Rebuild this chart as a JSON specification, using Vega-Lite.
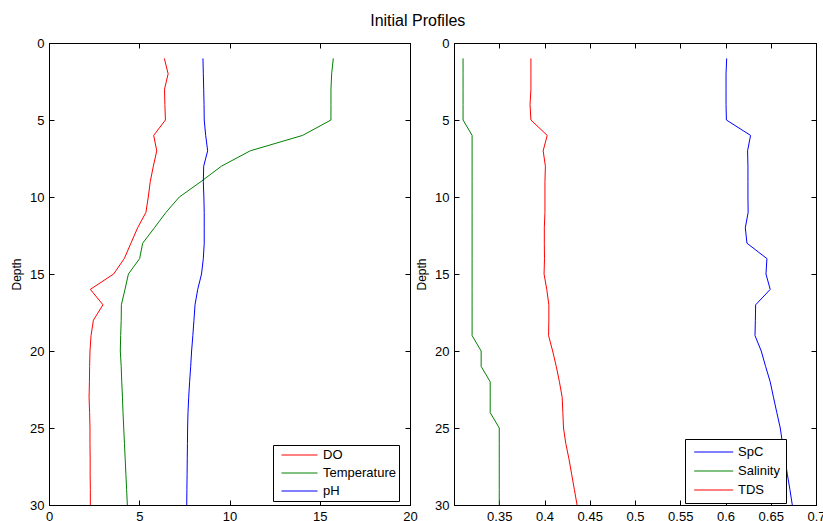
{
  "$schema": "https://vega.github.io/schema/vega-lite/v6.json",
  "padding": {"left": 10, "top": 12, "right": 6, "bottom": 2},
  "title": {"text": "Initial Profiles", "fontSize": 16, "fontWeight": "normal", "font": "Liberation Sans", "anchor": "middle", "color": "black", "offset": 8},
  "bounds": "flush",
  "spacing": 44,
  "datasets": {
    "left": [
      {"v": "DO", "d": 1, "x": 6.39}, {"v": "DO", "d": 2, "x": 6.6}, {"v": "DO", "d": 3, "x": 6.4}, {"v": "DO", "d": 4, "x": 6.42}, {"v": "DO", "d": 5, "x": 6.45},
      {"v": "DO", "d": 6, "x": 5.8}, {"v": "DO", "d": 7, "x": 5.97}, {"v": "DO", "d": 8, "x": 5.78}, {"v": "DO", "d": 9, "x": 5.61}, {"v": "DO", "d": 10, "x": 5.5},
      {"v": "DO", "d": 11, "x": 5.37}, {"v": "DO", "d": 12, "x": 4.91}, {"v": "DO", "d": 13, "x": 4.54}, {"v": "DO", "d": 14, "x": 4.17}, {"v": "DO", "d": 15, "x": 3.58},
      {"v": "DO", "d": 16, "x": 2.29}, {"v": "DO", "d": 17, "x": 2.99}, {"v": "DO", "d": 18, "x": 2.46}, {"v": "DO", "d": 19, "x": 2.33}, {"v": "DO", "d": 20, "x": 2.27},
      {"v": "DO", "d": 21, "x": 2.25}, {"v": "DO", "d": 22, "x": 2.24}, {"v": "DO", "d": 23, "x": 2.22}, {"v": "DO", "d": 24, "x": 2.25}, {"v": "DO", "d": 25, "x": 2.27},
      {"v": "DO", "d": 26, "x": 2.27}, {"v": "DO", "d": 27, "x": 2.28}, {"v": "DO", "d": 28, "x": 2.28}, {"v": "DO", "d": 29, "x": 2.29}, {"v": "DO", "d": 30, "x": 2.29},
      {"v": "Temperature", "d": 1, "x": 15.75}, {"v": "Temperature", "d": 2, "x": 15.66}, {"v": "Temperature", "d": 3, "x": 15.62}, {"v": "Temperature", "d": 4, "x": 15.62}, {"v": "Temperature", "d": 5, "x": 15.62},
      {"v": "Temperature", "d": 6, "x": 14.05}, {"v": "Temperature", "d": 7, "x": 11.15}, {"v": "Temperature", "d": 8, "x": 9.55}, {"v": "Temperature", "d": 9, "x": 8.42}, {"v": "Temperature", "d": 10, "x": 7.22},
      {"v": "Temperature", "d": 11, "x": 6.48}, {"v": "Temperature", "d": 12, "x": 5.84}, {"v": "Temperature", "d": 13, "x": 5.19}, {"v": "Temperature", "d": 14, "x": 5.02}, {"v": "Temperature", "d": 15, "x": 4.4},
      {"v": "Temperature", "d": 16, "x": 4.21}, {"v": "Temperature", "d": 17, "x": 4.01}, {"v": "Temperature", "d": 18, "x": 4.0}, {"v": "Temperature", "d": 19, "x": 3.97}, {"v": "Temperature", "d": 20, "x": 3.95},
      {"v": "Temperature", "d": 21, "x": 4.0}, {"v": "Temperature", "d": 22, "x": 4.03}, {"v": "Temperature", "d": 23, "x": 4.07}, {"v": "Temperature", "d": 24, "x": 4.1}, {"v": "Temperature", "d": 25, "x": 4.14},
      {"v": "Temperature", "d": 26, "x": 4.18}, {"v": "Temperature", "d": 27, "x": 4.22}, {"v": "Temperature", "d": 28, "x": 4.26}, {"v": "Temperature", "d": 29, "x": 4.3}, {"v": "Temperature", "d": 30, "x": 4.34},
      {"v": "pH", "d": 1, "x": 8.53}, {"v": "pH", "d": 2, "x": 8.55}, {"v": "pH", "d": 3, "x": 8.57}, {"v": "pH", "d": 4, "x": 8.59}, {"v": "pH", "d": 5, "x": 8.6},
      {"v": "pH", "d": 6, "x": 8.68}, {"v": "pH", "d": 7, "x": 8.79}, {"v": "pH", "d": 8, "x": 8.57}, {"v": "pH", "d": 9, "x": 8.55}, {"v": "pH", "d": 10, "x": 8.58},
      {"v": "pH", "d": 11, "x": 8.6}, {"v": "pH", "d": 12, "x": 8.6}, {"v": "pH", "d": 13, "x": 8.6}, {"v": "pH", "d": 14, "x": 8.55}, {"v": "pH", "d": 15, "x": 8.45},
      {"v": "pH", "d": 16, "x": 8.24}, {"v": "pH", "d": 17, "x": 8.09}, {"v": "pH", "d": 18, "x": 8.03}, {"v": "pH", "d": 19, "x": 7.97}, {"v": "pH", "d": 20, "x": 7.9},
      {"v": "pH", "d": 21, "x": 7.85}, {"v": "pH", "d": 22, "x": 7.79}, {"v": "pH", "d": 23, "x": 7.74}, {"v": "pH", "d": 24, "x": 7.7}, {"v": "pH", "d": 25, "x": 7.68},
      {"v": "pH", "d": 26, "x": 7.67}, {"v": "pH", "d": 27, "x": 7.66}, {"v": "pH", "d": 28, "x": 7.65}, {"v": "pH", "d": 29, "x": 7.64}, {"v": "pH", "d": 30, "x": 7.63}
    ],
    "right": [
      {"v": "SpC", "d": 1, "x": 0.6013}, {"v": "SpC", "d": 2, "x": 0.6006}, {"v": "SpC", "d": 3, "x": 0.6006}, {"v": "SpC", "d": 4, "x": 0.6006}, {"v": "SpC", "d": 5, "x": 0.601},
      {"v": "SpC", "d": 6, "x": 0.6277}, {"v": "SpC", "d": 7, "x": 0.6244}, {"v": "SpC", "d": 8, "x": 0.6248}, {"v": "SpC", "d": 9, "x": 0.6248}, {"v": "SpC", "d": 10, "x": 0.6248},
      {"v": "SpC", "d": 11, "x": 0.625}, {"v": "SpC", "d": 12, "x": 0.6219}, {"v": "SpC", "d": 13, "x": 0.6237}, {"v": "SpC", "d": 14, "x": 0.6458}, {"v": "SpC", "d": 15, "x": 0.6447},
      {"v": "SpC", "d": 16, "x": 0.6494}, {"v": "SpC", "d": 17, "x": 0.6333}, {"v": "SpC", "d": 18, "x": 0.633}, {"v": "SpC", "d": 19, "x": 0.6326}, {"v": "SpC", "d": 20, "x": 0.6395},
      {"v": "SpC", "d": 21, "x": 0.6443}, {"v": "SpC", "d": 22, "x": 0.6494}, {"v": "SpC", "d": 23, "x": 0.653}, {"v": "SpC", "d": 24, "x": 0.6567}, {"v": "SpC", "d": 25, "x": 0.6605},
      {"v": "SpC", "d": 26, "x": 0.663}, {"v": "SpC", "d": 27, "x": 0.6657}, {"v": "SpC", "d": 28, "x": 0.6683}, {"v": "SpC", "d": 29, "x": 0.6712}, {"v": "SpC", "d": 30, "x": 0.6738},
      {"v": "Salinity", "d": 1, "x": 0.31}, {"v": "Salinity", "d": 2, "x": 0.31}, {"v": "Salinity", "d": 3, "x": 0.31}, {"v": "Salinity", "d": 4, "x": 0.31}, {"v": "Salinity", "d": 5, "x": 0.31},
      {"v": "Salinity", "d": 6, "x": 0.32}, {"v": "Salinity", "d": 7, "x": 0.32}, {"v": "Salinity", "d": 8, "x": 0.32}, {"v": "Salinity", "d": 9, "x": 0.32}, {"v": "Salinity", "d": 10, "x": 0.32},
      {"v": "Salinity", "d": 11, "x": 0.32}, {"v": "Salinity", "d": 12, "x": 0.32}, {"v": "Salinity", "d": 13, "x": 0.32}, {"v": "Salinity", "d": 14, "x": 0.32}, {"v": "Salinity", "d": 15, "x": 0.32},
      {"v": "Salinity", "d": 16, "x": 0.32}, {"v": "Salinity", "d": 17, "x": 0.32}, {"v": "Salinity", "d": 18, "x": 0.32}, {"v": "Salinity", "d": 19, "x": 0.32}, {"v": "Salinity", "d": 20, "x": 0.33},
      {"v": "Salinity", "d": 21, "x": 0.33}, {"v": "Salinity", "d": 22, "x": 0.34}, {"v": "Salinity", "d": 23, "x": 0.34}, {"v": "Salinity", "d": 24, "x": 0.34}, {"v": "Salinity", "d": 25, "x": 0.35},
      {"v": "Salinity", "d": 26, "x": 0.35}, {"v": "Salinity", "d": 27, "x": 0.35}, {"v": "Salinity", "d": 28, "x": 0.35}, {"v": "Salinity", "d": 29, "x": 0.35}, {"v": "Salinity", "d": 30, "x": 0.35},
      {"v": "TDS", "d": 1, "x": 0.385}, {"v": "TDS", "d": 2, "x": 0.385}, {"v": "TDS", "d": 3, "x": 0.385}, {"v": "TDS", "d": 4, "x": 0.384}, {"v": "TDS", "d": 5, "x": 0.385},
      {"v": "TDS", "d": 6, "x": 0.403}, {"v": "TDS", "d": 7, "x": 0.3985}, {"v": "TDS", "d": 8, "x": 0.401}, {"v": "TDS", "d": 9, "x": 0.4005}, {"v": "TDS", "d": 10, "x": 0.4005},
      {"v": "TDS", "d": 11, "x": 0.4005}, {"v": "TDS", "d": 12, "x": 0.3998}, {"v": "TDS", "d": 13, "x": 0.3998}, {"v": "TDS", "d": 14, "x": 0.4}, {"v": "TDS", "d": 15, "x": 0.3995},
      {"v": "TDS", "d": 16, "x": 0.4025}, {"v": "TDS", "d": 17, "x": 0.4048}, {"v": "TDS", "d": 18, "x": 0.4048}, {"v": "TDS", "d": 19, "x": 0.4045}, {"v": "TDS", "d": 20, "x": 0.409},
      {"v": "TDS", "d": 21, "x": 0.413}, {"v": "TDS", "d": 22, "x": 0.4165}, {"v": "TDS", "d": 23, "x": 0.4195}, {"v": "TDS", "d": 24, "x": 0.4203}, {"v": "TDS", "d": 25, "x": 0.421},
      {"v": "TDS", "d": 26, "x": 0.4235}, {"v": "TDS", "d": 27, "x": 0.427}, {"v": "TDS", "d": 28, "x": 0.43}, {"v": "TDS", "d": 29, "x": 0.433}, {"v": "TDS", "d": 30, "x": 0.436}
    ]
  },
  "hconcat": [
    {
      "width": 361,
      "height": 462,
      "data": {"name": "left"},
      "layer": [
        {
          "mark": {"type": "line", "strokeWidth": 1, "clip": true},
          "encoding": {
            "x": {"field": "x", "type": "quantitative", "scale": {"domain": [0, 20], "nice": false, "zero": false}, "axis": {"orient": "bottom", "values": [0, 5, 10, 15, 20], "title": null}},
            "y": {"field": "d", "type": "quantitative", "scale": {"domain": [0, 30], "reverse": true, "nice": false, "zero": false}, "axis": {"orient": "left", "values": [0, 5, 10, 15, 20, 25, 30], "title": "Depth"}},
            "color": {"field": "v", "type": "nominal", "scale": {"domain": ["DO", "Temperature", "pH"], "range": ["#ff0000", "#008000", "#0000ff"]},
              "legend": {"title": null, "orient": "none", "legendX": 224, "legendY": 402, "padding": 3, "symbolSize": 169, "symbolType": "M-0.23,0H5.31", "labelOffset": 33, "rowPadding": 4}},
            "order": {"field": "d", "type": "quantitative"}
          }
        },
        {
          "mark": {"type": "point", "opacity": 0},
          "encoding": {
            "x": {"field": "x", "type": "quantitative", "scale": {"domain": [0, 20], "nice": false, "zero": false}, "axis": {"orient": "top", "values": [0, 5, 10, 15, 20], "title": null, "labels": false}},
            "y": {"field": "d", "type": "quantitative", "scale": {"domain": [0, 30], "reverse": true, "nice": false, "zero": false}, "axis": {"orient": "right", "values": [0, 5, 10, 15, 20, 25, 30], "title": null, "labels": false}}
          }
        }
      ],
      "resolve": {"axis": {"x": "independent", "y": "independent"}}
    },
    {
      "width": 362,
      "height": 462,
      "data": {"name": "right"},
      "layer": [
        {
          "mark": {"type": "line", "strokeWidth": 1, "clip": true},
          "encoding": {
            "x": {"field": "x", "type": "quantitative", "scale": {"domain": [0.3, 0.7], "nice": false, "zero": false}, "axis": {"orient": "bottom", "values": [0.35, 0.4, 0.45, 0.5, 0.55, 0.6, 0.65, 0.7], "format": "~g", "title": null}},
            "y": {"field": "d", "type": "quantitative", "scale": {"domain": [0, 30], "reverse": true, "nice": false, "zero": false}, "axis": {"orient": "left", "values": [0, 5, 10, 15, 20, 25, 30], "title": "Depth"}},
            "color": {"field": "v", "type": "nominal", "scale": {"domain": ["SpC", "Salinity", "TDS"], "range": ["#0000ff", "#008000", "#ff0000"]},
              "legend": {"title": null, "orient": "none", "legendX": 231, "legendY": 396, "padding": 6, "symbolSize": 169, "symbolType": "M-0.585,0H5.415", "labelOffset": 33, "rowPadding": 5}},
            "order": {"field": "d", "type": "quantitative"}
          }
        },
        {
          "mark": {"type": "point", "opacity": 0},
          "encoding": {
            "x": {"field": "x", "type": "quantitative", "scale": {"domain": [0.3, 0.7], "nice": false, "zero": false}, "axis": {"orient": "top", "values": [0.35, 0.4, 0.45, 0.5, 0.55, 0.6, 0.65, 0.7], "title": null, "labels": false}},
            "y": {"field": "d", "type": "quantitative", "scale": {"domain": [0, 30], "reverse": true, "nice": false, "zero": false}, "axis": {"orient": "right", "values": [0, 5, 10, 15, 20, 25, 30], "title": null, "labels": false}}
          }
        }
      ],
      "resolve": {"axis": {"x": "independent", "y": "independent"}, "scale": {"color": "independent"}}
    }
  ],
  "resolve": {"scale": {"color": "independent"}, "legend": {"color": "independent"}},
  "config": {
    "font": "Liberation Sans",
    "view": {"stroke": "black", "strokeWidth": 1},
    "axis": {
      "grid": false, "domainColor": "black", "tickColor": "black", "labelColor": "black", "titleColor": "black",
      "labelFontSize": 13, "titleFontSize": 12, "titleFontWeight": "normal", "labelFont": "Liberation Sans", "titleFont": "Liberation Sans",
      "tickSize": -5, "labelPadding": 10, "domainWidth": 1, "tickWidth": 1, "labelFlush": false, "labelOverlap": false, "titlePadding": 6
    },
    "legend": {
      "strokeColor": "black", "fillColor": "white", "symbolStrokeWidth": 1,
      "labelFontSize": 13, "labelFont": "Liberation Sans", "labelColor": "black"
    }
  }
}
